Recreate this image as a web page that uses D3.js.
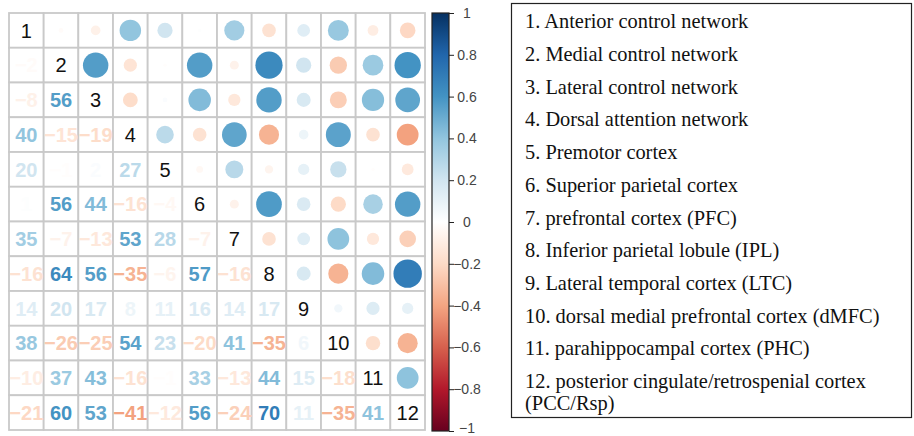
<!DOCTYPE html>
<html>
<head>
<meta charset="utf-8">
<script src="https://cdn.jsdelivr.net/npm/d3@7"></script>
<style>
  body { margin: 0; background: #fff; }
  svg { display: block; }
</style>
</head>
<body>
<div id="chart"></div>
<script>
var width = 914, height = 436;

// region names shown in the legend box
var regions = [
  "1. Anterior control network",
  "2. Medial control network",
  "3. Lateral control network",
  "4. Dorsal attention network",
  "5. Premotor cortex",
  "6. Superior parietal cortex",
  "7. prefrontal cortex (PFC)",
  "8. Inferior parietal lobule (IPL)",
  "9. Lateral temporal cortex (LTC)",
  "10. dorsal medial prefrontal cortex (dMFC)",
  "11. parahippocampal cortex (PHC)",
  "12. posterior cingulate/retrospenial cortex (PCC/Rsp)"
];

// lower triangle of the correlation matrix (x100), row i holds columns 1..i-1
var lowerRows = [
  [],
  [-2],
  [-8, 56],
  [40, -15, -19],
  [20, -1, 2, 27],
  [1, 56, 44, -16, -4],
  [35, -7, -13, 53, 28, -7],
  [-16, 64, 56, -35, -6, 57, -16],
  [14, 20, 17, 8, 11, 16, 14, 17],
  [38, -26, -25, 54, 23, -20, 41, -35, 6],
  [-10, 37, 43, -16, -1, 33, -13, 44, 15, -18],
  [-21, 60, 53, -41, -12, 56, -24, 70, 11, -35, 41]
];

var barTicks = [1, 0.8, 0.6, 0.4, 0.2, 0, -0.2, -0.4, -0.6, -0.8, -1];

var palette = ["#67001F", "#B2182B", "#D6604D", "#F4A582", "#FDDBC7", "#FFFFFF",
               "#D1E5F0", "#92C5DE", "#4393C3", "#2166AC", "#053061"];

var n = regions.length;

// full symmetric matrix from the lower triangle
var cells = [];
for (var i = 0; i < n; i++) {
  for (var j = 0; j < n; j++) {
    var v = i === j ? 100 : (j < i ? lowerRows[i][j] : lowerRows[j][i]);
    cells.push({ row: i, col: j, value: v / 100 });
  }
}

var color = d3.scaleLinear()
    .domain(d3.range(palette.length).map(function(k) { return -1 + 2 * k / (palette.length - 1); }))
    .range(palette)
    .interpolate(d3.interpolateRgb);

var svg = d3.select("#chart").append("svg")
    .attr("width", width)
    .attr("height", height);

var x = d3.scaleBand().domain(d3.range(n)).range([9, 425]),
    y = d3.scaleBand().domain(d3.range(n)).range([13, 430]);

var cw = x.bandwidth(), ch = y.bandwidth();

// grid
svg.append("g").selectAll("rect")
    .data(cells)
  .enter().append("rect")
    .attr("x", function(d) { return x(d.col); })
    .attr("y", function(d) { return y(d.row); })
    .attr("width", cw)
    .attr("height", ch)
    .attr("fill", "#fff")
    .attr("stroke", "#c9c9c9")
    .attr("stroke-width", 1.8);

// upper triangle: circles
svg.append("g").selectAll("circle")
    .data(cells.filter(function(d) { return d.col > d.row; }))
  .enter().append("circle")
    .attr("cx", function(d) { return x(d.col) + cw / 2; })
    .attr("cy", function(d) { return y(d.row) + ch / 2; })
    .attr("r", function(d) { return Math.sqrt(Math.abs(d.value)) * cw * 0.49; })
    .attr("fill", function(d) { return color(d.value); });

// lower triangle: numbers
svg.append("g").selectAll("text")
    .data(cells.filter(function(d) { return d.col < d.row; }))
  .enter().append("text")
    .attr("x", function(d) { return x(d.col) + cw / 2; })
    .attr("y", function(d) { return y(d.row) + ch / 2; })
    .attr("dy", "0.36em")
    .attr("text-anchor", "middle")
    .style("font-family", "'Liberation Sans', Arial, sans-serif")
    .style("font-weight", "bold")
    .style("font-size", "20px")
    .attr("fill", function(d) { return color(d.value); })
    .text(function(d) {
      var v = Math.round(d.value * 100);
      return (v < 0 ? "\u2212" : "") + Math.abs(v);
    });

// diagonal: region numbers
svg.append("g").selectAll("text")
    .data(cells.filter(function(d) { return d.col === d.row; }))
  .enter().append("text")
    .attr("x", function(d) { return x(d.col) + cw / 2; })
    .attr("y", function(d) { return y(d.row) + ch / 2; })
    .attr("dy", "0.36em")
    .attr("text-anchor", "middle")
    .style("font-family", "'Liberation Sans', Arial, sans-serif")
    .style("font-size", "20px")
    .attr("fill", "#111")
    .text(function(d) { return d.row + 1; });

// colour bar
var by = d3.scaleLinear().domain([-1, 1]).range([431, 13]);

var grad = svg.append("defs").append("linearGradient")
    .attr("id", "bar")
    .attr("x1", 0).attr("y1", 1).attr("x2", 0).attr("y2", 0);
grad.selectAll("stop")
    .data(palette)
  .enter().append("stop")
    .attr("offset", function(d, k) { return k / (palette.length - 1); })
    .attr("stop-color", function(d) { return d; });

svg.append("rect")
    .attr("x", 432)
    .attr("y", by(1))
    .attr("width", 17)
    .attr("height", by(-1) - by(1))
    .attr("fill", "url(#bar)")
    .attr("stroke", "#222")
    .attr("stroke-width", 1.2);

var axis = svg.append("g")
    .attr("transform", "translate(449,0)")
    .call(d3.axisRight(by)
      .tickValues(barTicks)
      .tickSize(5)
      .tickFormat(function(d) { return d < 0 ? "\u2212" + Math.abs(d) : String(d); }));

axis.select(".domain").remove();
axis.selectAll(".tick line").attr("stroke", "#222");
axis.selectAll(".tick text")
    .attr("x", 18)
    .attr("text-anchor", "middle")
    .attr("fill", "#444")
    .style("font-family", "'Liberation Sans', Arial, sans-serif")
    .style("font-size", "14px")
    .attr("dy", function(d) { return d === -1 ? "0.1em" : "0.32em"; });

// legend box
svg.append("rect")
    .attr("x", 511.5)
    .attr("y", 3.5)
    .attr("width", 400)
    .attr("height", 414)
    .attr("fill", "none")
    .attr("stroke", "#222")
    .attr("stroke-width", 1.2);

var ly = d3.scaleLinear().domain([0, n - 1]).range([21, 381]);

var legend = svg.append("g")
    .style("font-family", "'Liberation Serif', 'Times New Roman', serif")
    .style("font-size", "20.4px")
    .attr("fill", "#111");

legend.selectAll("text")
    .data(regions)
  .enter().append("text")
    .attr("x", 525)
    .attr("y", function(d, k) { return ly(k); })
    .attr("dy", "0.35em")
    .each(function(d) {
      var cut = d.indexOf(" (PCC");
      if (cut < 0) { d3.select(this).text(d); return; }
      d3.select(this).append("tspan").text(d.slice(0, cut));
      d3.select(this).append("tspan").attr("x", 525).attr("dy", "1.05em").text(d.slice(cut + 1));
    });
</script>
</body>
</html>
